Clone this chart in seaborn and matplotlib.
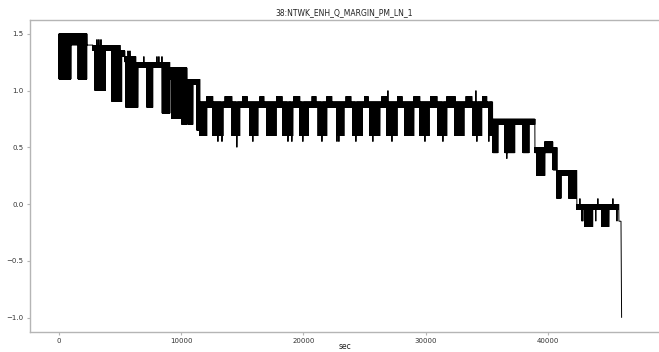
import numpy as np
import pandas as pd
import matplotlib
matplotlib.use("Agg")
import matplotlib.pyplot as plt
import seaborn as sns

title = "38:NTWK_ENH_Q_MARGIN_PM_LN_1"
x_label = "sec"

# Staircase of operating bands: the margin toggles between high and low inside each band
band_start = [0, 2290, 2780, 4750, 5400, 6300, 9080, 10470, 11540, 35500, 38950, 40750, 42380, 45820]
band_end = [2290, 2780, 4750, 5400, 6300, 9080, 10470, 11540, 35500, 38950, 40750, 42380, 45820, 46000]
band_high = [1.50, 1.40, 1.40, 1.35, 1.30, 1.25, 1.20, 1.10, 0.90, 0.75, 0.50, 0.30, 0.00, -0.15]
band_low = [1.40, 1.40, 1.35, 1.30, 1.25, 1.20, 1.10, 1.05, 0.85, 0.70, 0.45, 0.25, -0.05, -0.15]

# Deep dips: periods where the low side of the toggle drops further
dip_start = [0, 1555, 2950, 4340, 5480, 7200, 8430, 9250, 10060, 10560, 11290,
             11540, 12600, 14155, 15627, 17019, 18328, 19719, 21191, 22746,
             24055, 25446, 26837, 28310, 29537, 31010, 32401, 33874, 35265,
             35510, 36490, 37960, 39110, 40420, 40750, 41730, 43040, 44430]
dip_end = [980, 2290, 3800, 5150, 6460, 7690, 9080, 10060, 10470, 10960, 11540,
           12109, 13418, 14809, 16282, 17755, 19146, 20373, 21928, 23319,
           24792, 26264, 27655, 29046, 30273, 31746, 33137, 34610, 35592,
           35920, 37310, 38460, 39760, 40750, 41080, 42380, 43690, 45000]
dip_low = [1.10, 1.10, 1.00, 0.90, 0.85, 0.85, 0.80, 0.75, 0.70, 0.70, 0.65,
           0.60, 0.60, 0.60, 0.60, 0.60, 0.60, 0.60, 0.60, 0.60,
           0.60, 0.60, 0.60, 0.60, 0.60, 0.60, 0.60, 0.60, 0.60,
           0.45, 0.45, 0.45, 0.25, 0.30, 0.05, 0.05, -0.20, -0.20]

# Upper bumps: periods where the high side of the toggle rises
bump_start = [12109, 13582, 15055, 16446, 17837, 19228, 20701, 21928, 23482,
              25037, 26428, 27737, 29046, 30437, 31746, 33301, 34692, 39760]
bump_end = [12600, 14155, 15382, 16773, 18246, 19719, 21028, 22337, 23892,
            25282, 26837, 28064, 29537, 30928, 32401, 33792, 35019, 40420]
bump_high = [0.95, 0.95, 0.95, 0.95, 0.95, 0.95, 0.95, 0.95, 0.95,
             0.95, 0.95, 0.95, 0.95, 0.95, 0.95, 0.95, 0.95, 0.55]

# Isolated single-sample excursions
spike_sec = [3110, 3270, 3440, 4850, 4990, 5650, 5810, 6950, 8020, 8180, 8430,
             13010, 13340, 14560, 15870, 18740, 19060, 19960, 21520, 22750, 22910,
             24300, 25690, 26920, 27250, 29950, 31420, 34120, 34200, 35180,
             36650, 42630, 42790, 42870, 43930, 44100, 45330, 45660]
spike_value = [1.45, 1.45, 1.45, 1.40, 1.40, 1.35, 1.35, 1.30, 1.30, 1.30, 1.30,
               0.55, 0.55, 0.50, 0.55, 0.55, 0.55, 0.55, 0.55, 0.55, 0.55,
               0.55, 0.55, 1.00, 0.55, 0.55, 0.55, 1.00, 0.55, 0.55,
               0.40, 0.05, -0.15, -0.15, -0.15, 0.05, 0.05, -0.15]

# Last logged sample
final_sec = 46040
final_value = -1.0

sample_step = 10

# Build the logged series: one sample every step, toggling between band edges
sec = np.arange(0, band_end[-1], sample_step)
value = np.empty(sec.shape, dtype=float)
for i, t in enumerate(sec):
    k = np.searchsorted(band_end, t, side="right")
    k = min(k, len(band_end) - 1)
    hi, lo = band_high[k], band_low[k]
    for s, e, v in zip(dip_start, dip_end, dip_low):
        if s <= t < e:
            lo = v
    for s, e, v in zip(bump_start, bump_end, bump_high):
        if s <= t < e:
            hi = v
    value[i] = hi if i % 2 == 0 else lo
for t, v in zip(spike_sec, spike_value):
    value[int(round(t / sample_step))] = v
sec = np.append(sec, final_sec)
value = np.append(value, final_value)

df = pd.DataFrame({"sec": sec, "value": value})

sns.set_theme(style="ticks")
plt.rcParams["font.family"] = ["DejaVu Sans"]

fig = plt.figure(figsize=(6.59, 3.52), dpi=100)
ax = fig.add_axes([0.0455, 0.0568, 0.9545, 0.8878])

sns.lineplot(data=df, x="sec", y="value", color="black", linewidth=0.7,
             estimator=None, sort=False, ax=ax,
             solid_joinstyle="bevel", solid_capstyle="butt")

ax.set_xlim(-2370, 49100)
ax.set_ylim(-1.125, 1.625)
ax.set_xticks([0, 10000, 20000, 30000, 40000])
ax.set_yticks([-1.0, -0.5, 0.0, 0.5, 1.0, 1.5])
ax.set_title(title, fontsize=5.5, pad=3, color="#222222")
ax.set_xlabel(x_label, fontsize=5.5, color="#222222")
ax.xaxis.set_label_coords(0.5, -0.033)
ax.set_ylabel("")

for side in ["left", "bottom", "top"]:
    ax.spines[side].set_color("#b5b5b5")
    ax.spines[side].set_linewidth(1.0)
ax.spines["right"].set_visible(False)
ax.tick_params(axis="both", labelsize=5, colors="#b5b5b5", labelcolor="#333333",
               length=2.5, width=0.8, pad=2)

fig.savefig("out.png", dpi=100)
